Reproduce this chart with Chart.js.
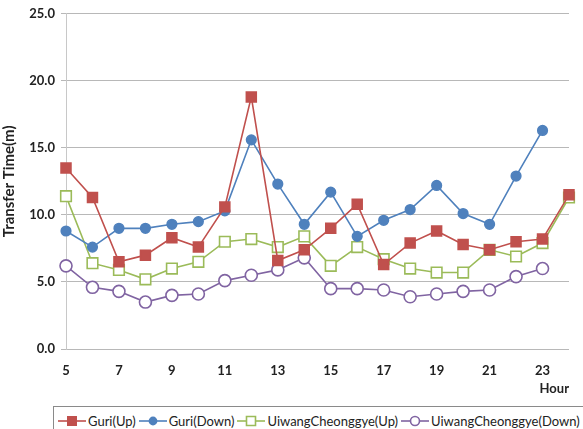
<!DOCTYPE html>
<html>
<head>
<meta charset="utf-8">
<script src="https://cdn.jsdelivr.net/npm/chart.js@4.4.1/dist/chart.umd.min.js"></script>
<style>
  html, body { margin: 0; padding: 0; background: #fff; overflow: hidden; }
  #wrap { position: relative; width: 583px; height: 429px; overflow: hidden; }
  #box { position: absolute; left: 0; top: 0; width: 583px; height: 400px; }
  #legend {
    position: absolute; left: 53px; top: 406px; width: 600px; height: 34px;
    border: 1px solid #8a8a8a; box-sizing: border-box; white-space: nowrap;
    font: 13px Lato, "Open Sans", sans-serif; line-height: 16px; color: #222; padding: 6px 0 0 3px;
  }
  #legend span.item { display: inline-block; vertical-align: top; height: 16px; }
  #legend canvas { vertical-align: top; margin-top: 1px; }
</style>
</head>
<body>
<div id="wrap">
  <div id="box"><canvas id="chart"></canvas></div>
  <div id="legend"></div>
</div>
<script>
const hours = ['5','6','7','8','9','10','11','12','13','14','15','16','17','18','19','20','21','22','23','24']
const guriUp = [13.5, 11.3, 6.5, 7.0, 8.3, 7.6, 10.6, 18.8, 6.6, 7.4, 9.0, 10.8, 6.3, 7.9, 8.8, 7.8, 7.4, 8.0, 8.2, 11.5]
const guriDown = [8.8, 7.6, 9.0, 9.0, 9.3, 9.5, 10.3, 15.6, 12.3, 9.3, 11.7, 8.4, 9.6, 10.4, 12.2, 10.1, 9.3, 12.9, 16.3, null]
const uiwangUp = [11.4, 6.4, 5.9, 5.2, 6.0, 6.5, 8.0, 8.2, 7.6, 8.4, 6.2, 7.6, 6.7, 6.0, 5.7, 5.7, 7.4, 6.9, 7.9, 11.3]
const uiwangDown = [6.2, 4.6, 4.3, 3.5, 4.0, 4.1, 5.1, 5.5, 5.9, 6.8, 4.5, 4.5, 4.4, 3.9, 4.1, 4.3, 4.4, 5.4, 6.0, null]
const seriesNames = ['Guri(Up)', 'Guri(Down)', 'UiwangCheonggye(Up)', 'UiwangCheonggye(Down)']

const RED = '#C0504D'
const BLUE = '#4F81BD'
const GREEN = '#9BBB59'
const PURPLE = '#8064A2'
const FONT = 'Lato, "Open Sans", sans-serif'

const mk = (label, data, color, style, radius, filled) => ({
  label,
  data,
  borderColor: color,
  backgroundColor: filled ? color : '#fff',
  borderWidth: 1.6,
  pointStyle: style,
  pointRadius: radius,
  pointHoverRadius: radius,
  pointBorderWidth: 1.6,
  pointBackgroundColor: filled ? color : '#fff',
  pointBorderColor: color,
  tension: 0,
  spanGaps: false
})

const datasets = [
  mk(seriesNames[0], guriUp, RED, 'rect', 7, true),
  mk(seriesNames[1], guriDown, BLUE, 'circle', 4.8, true),
  mk(seriesNames[2], uiwangUp, GREEN, 'rect', 7.5, false),
  mk(seriesNames[3], uiwangDown, PURPLE, 'circle', 6, false)
]

new Chart(document.getElementById('chart'), {
  type: 'line',
  data: { labels: hours, datasets },
  options: {
    responsive: true,
    maintainAspectRatio: false,
    animation: false,
    layout: { padding: { top: 4, right: 6, left: 0, bottom: 3 } },
    plugins: { legend: { display: false }, tooltip: { enabled: false } },
    scales: {
      x: {
        offset: false,
        grid: { display: false, drawTicks: false },
        border: { display: false },
        ticks: {
          autoSkip: false,
          maxRotation: 0,
          padding: 14,
          color: '#222',
          font: { family: FONT, size: 13, weight: 'bold' },
          callback: (v, i) => (i % 2 === 0 ? hours[i] : '')
        },
        title: {
          display: true,
          text: 'Hour',
          align: 'end',
          color: '#222',
          padding: { top: 0, bottom: 0 },
          font: { family: FONT, size: 13, weight: 'bold' }
        },
        afterFit: (s) => { s.height = 48 }
      },
      y: {
        min: 0,
        max: 25,
        grid: { color: '#b8b8b8', lineWidth: 1, tickLength: 5 },
        border: { display: true, color: '#c8c8c8', width: 1 },
        ticks: {
          stepSize: 5,
          padding: 6,
          color: '#222',
          font: { family: FONT, size: 13, weight: 'bold' },
          callback: (v) => v.toFixed(1)
        },
        title: {
          display: true,
          text: 'Transfer Time(m)',
          color: '#222',
          padding: { top: 0, bottom: 2 },
          font: { family: FONT, size: 15, weight: 'bold' }
        },
        afterFit: (s) => { s.width = 66 }
      }
    }
  }
})

// legend with line-through-marker icons, like the reference
const legendEl = document.getElementById('legend')
datasets.forEach((d) => {
  const item = document.createElement('span')
  item.className = 'item'
  const c = document.createElement('canvas')
  c.width = 30
  c.height = 14
  const ctx = c.getContext('2d')
  ctx.strokeStyle = d.borderColor
  ctx.lineWidth = 1.6
  ctx.beginPath()
  ctx.moveTo(1, 7)
  ctx.lineTo(29, 7)
  ctx.stroke()
  ctx.fillStyle = d.pointBackgroundColor
  ctx.beginPath()
  if (d.pointStyle === 'rect') {
    const s = d.pointRadius * 0.6
    ctx.rect(15 - s, 7 - s, 2 * s, 2 * s)
  } else {
    ctx.arc(15, 7, Math.min(d.pointRadius * 0.75, 4.5), 0, Math.PI * 2)
  }
  ctx.fill()
  ctx.stroke()
  item.appendChild(c)
  const t = document.createElement('span')
  t.textContent = d.label
  t.style.marginLeft = '1px'
  t.style.marginRight = '2px'
  item.appendChild(t)
  legendEl.appendChild(item)
})
</script>
</body>
</html>
